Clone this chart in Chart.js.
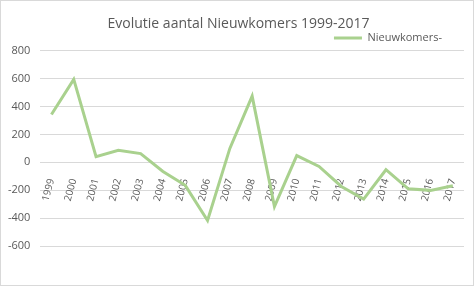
<!DOCTYPE html>
<html>
<head>
<meta charset="utf-8">
<script src="https://cdn.jsdelivr.net/npm/chart.js@4"></script>
<style>
  html, body { margin: 0; padding: 0; background: #fff; }
  #wrap { position: absolute; left: 0; top: 0; width: 472px; height: 284px; border: 1px solid #d9d9d9; }
  canvas { display: block; }
</style>
</head>
<body>
<div id="wrap"><canvas id="c" width="472" height="284"></canvas></div>
<script>
const years = ['1999', '2000', '2001', '2002', '2003', '2004', '2005', '2006', '2007', '2008',
               '2009', '2010', '2011', '2012', '2013', '2014', '2015', '2016', '2017'];
const nieuwkomers = [343, 595, 40, 86, 63, -65, -165, -417, 100, 475,
                     -317, 48, -29, -173, -264, -53, -190, -201, -168];
const yTicks = { min: -600, max: 800, step: 200 };

const grey = '#595959';

// titel en legenda iets verschuiven, zoals in Excel
const boxShift = {
    id: 'boxShift',
    afterLayout(chart) {
        const lg = chart.legend;
        if (lg) {
            const dy = 42 - (lg.top + lg.height / 2);
            lg.top += dy;
            lg.bottom += dy;
            lg.left -= 22;
            lg.right -= 22;
        }
        const tb = chart.titleBlock;
        if (tb) {
            tb.left += 6;
            tb.right += 6;
        }
    }
};

new Chart(document.getElementById('c'), {
    type: 'line',
    data: {
        labels: years,
        datasets: [{
            label: 'Nieuwkomers-',
            data: nieuwkomers,
            borderColor: '#a9d18e',
            backgroundColor: '#a9d18e',
            borderWidth: 3,
            pointRadius: 0,
            tension: 0
        }]
    },
    options: {
        responsive: false,
        animation: false,
        layout: { padding: { left: 0, right: 9, top: 6.5, bottom: 39 } },
        plugins: {
            title: {
                display: true,
                text: 'Evolutie aantal Nieuwkomers 1999-2017',
                color: grey,
                font: { family: 'Open Sans', size: 14, weight: 'normal' },
                padding: { top: 8, bottom: -2.5 }
            },
            legend: {
                position: 'top',
                align: 'end',
                labels: {
                    usePointStyle: true,
                    pointStyle: 'line',
                    pointStyleWidth: 28,
                    color: grey,
                    font: { family: 'Open Sans', size: 11 },
                    padding: 0
                }
            },
            tooltip: { enabled: false }
        },
        scales: {
            x: {
                position: { y: 0 },
                offset: true,
                grid: { display: false },
                border: { display: false },
                ticks: {
                    color: grey,
                    font: { family: 'Open Sans', size: 10 },
                    minRotation: 75,
                    maxRotation: 75,
                    padding: 7
                }
            },
            y: {
                min: yTicks.min,
                max: yTicks.max,
                afterFit(scale) { scale.width = 39.3; },
                grid: { color: '#d9d9d9', drawTicks: false },
                border: { display: false },
                ticks: {
                    stepSize: yTicks.step,
                    color: grey,
                    font: { family: 'Open Sans', size: 11 },
                    padding: 10
                }
            }
        }
    },
    plugins: [boxShift]
});
</script>
</body>
</html>
